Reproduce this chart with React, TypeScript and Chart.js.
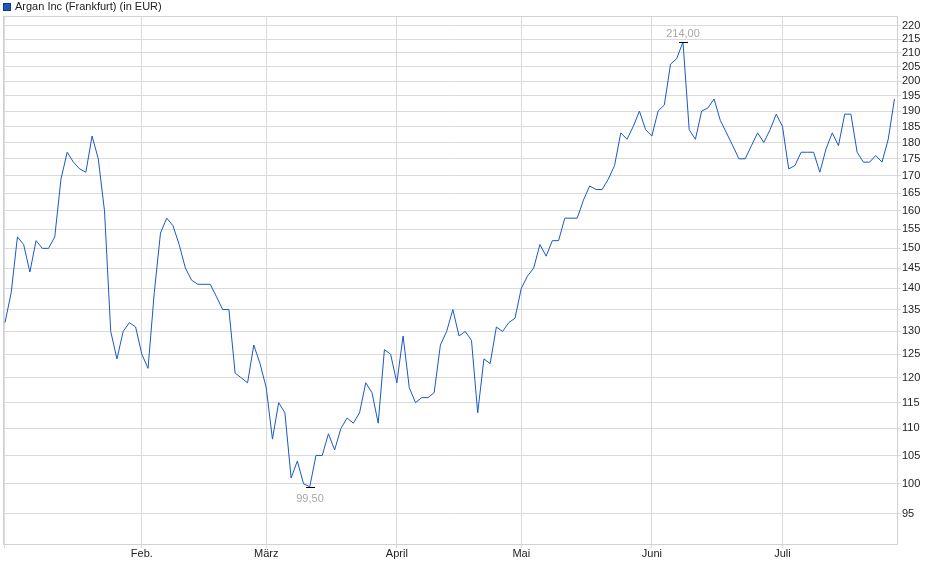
import { useEffect, useRef } from 'react';
import { Chart, registerables } from 'chart.js';

Chart.register(...registerables);

// Daily closing prices, 2 Jan – 25 Jul (Frankfurt trading days)
const seriesLabel = 'Argan Inc (Frankfurt) (in EUR)';
const prices = [
  132, 139, 153, 151, 144, 152, 150, 150, 153, 169,
  177, 174, 172, 171, 182, 175, 160, 130, 124, 130,
  132, 131, 125, 122, 139, 154, 158, 156, 151, 145,
  142, 141, 141, 141, 138, 135, 135, 121, 120, 119,
  127, 123, 118, 108, 115, 113, 101, 104, 100, 99.5,
  105, 105, 109, 106, 110, 112, 111, 113, 119, 117,
  111, 126, 125, 119, 129, 118, 115, 116, 116, 117,
  127, 130, 135, 129, 130, 128, 113, 124, 123, 131,
  130, 132, 133, 140, 143, 145, 151, 148, 152, 152,
  158, 158, 158, 163, 167, 166, 166, 169, 173, 183,
  181, 185, 190, 184, 182, 190, 192, 206, 208, 214,
  184, 181, 190, 191, 194, 187, 183, 179, 175, 175,
  179, 183, 180, 184, 189, 185, 172, 173, 177, 177,
  177, 171, 178, 183, 179, 189, 189, 177, 174, 174,
  176, 174, 181, 194,
];

// first trading day of each month (index into prices) and its label
const monthStartIndex = [0, 22, 42, 63, 83, 104, 125];
const monthLabels = ['', 'Feb.', 'März', 'April', 'Mai', 'Juni', 'Juli'];

const yTickValues = [
  95, 100, 105, 110, 115, 120, 125, 130, 135, 140, 145, 150, 155,
  160, 165, 170, 175, 180, 185, 190, 195, 200, 205, 210, 215, 220,
];

const FONT = "'Liberation Sans', Arial, Helvetica, sans-serif";
const GRID = '#dadada';
const LINE = '#1a58c6';

const fmt = (v: number) => v.toFixed(2).replace('.', ',');

const decorPlugin = {
  id: 'decor',
  beforeDatasetsDraw(chart: any) {
    const { ctx, chartArea: a } = chart;
    ctx.save();
    ctx.strokeStyle = '#d2d2d2';
    ctx.lineWidth = 1;
    ctx.strokeRect(
      Math.round(a.left) + 0.5,
      Math.round(a.top) + 0.5,
      Math.round(a.right - a.left) - 1,
      Math.round(a.bottom - a.top) - 1
    );
    ctx.restore();
  },
  afterDraw(chart: any) {
    const { ctx } = chart;
    const xs = chart.scales.x;
    const ys = chart.scales.y;
    ctx.save();

    // legend
    ctx.fillStyle = LINE;
    ctx.fillRect(3, 3, 8, 8);
    ctx.strokeStyle = '#14387c';
    ctx.lineWidth = 1;
    ctx.strokeRect(3.5, 3.5, 7, 7);
    ctx.font = `11px ${FONT}`;
    ctx.fillStyle = '#222222';
    ctx.textAlign = 'left';
    ctx.textBaseline = 'middle';
    ctx.fillText(seriesLabel, 15, 7);

    // high / low markers
    const hi = Math.max(...prices);
    const lo = Math.min(...prices);
    const marks = [
      { i: prices.indexOf(hi), v: hi, dy: -9 },
      { i: prices.indexOf(lo), v: lo, dy: 11 },
    ];
    marks.forEach((m) => {
      const px = Math.round(xs.getPixelForValue(m.i));
      const py = Math.round(ys.getPixelForValue(m.v)) + 0.5;
      ctx.strokeStyle = '#000000';
      ctx.beginPath();
      ctx.moveTo(px - 4, py);
      ctx.lineTo(px + 5, py);
      ctx.stroke();
      ctx.fillStyle = '#a8a8a8';
      ctx.textAlign = 'center';
      ctx.fillText(fmt(m.v), px, py + m.dy);
    });
    ctx.restore();
  },
};

export default function App() {
  const canvasRef = useRef<HTMLCanvasElement>(null);
  const chartRef = useRef<Chart | null>(null);

  useEffect(() => {
    if (!canvasRef.current) return;
    if (chartRef.current) {
      chartRef.current.destroy();
      chartRef.current = null;
    }

    chartRef.current = new Chart(canvasRef.current, {
      type: 'line',
      data: {
        datasets: [
          {
            label: seriesLabel,
            data: prices.map((v, i) => ({ x: i, y: v })),
            borderColor: LINE,
            borderWidth: 1,
            pointRadius: 0,
            tension: 0,
            fill: false,
          },
        ],
      },
      options: {
        animation: false,
        responsive: true,
        maintainAspectRatio: false,
        layout: { padding: { top: 16, left: 3, right: 0, bottom: 0 } },
        plugins: {
          legend: { display: false },
          tooltip: { enabled: false },
        },
        scales: {
          x: {
            type: 'linear',
            min: -0.32,
            max: 143.57,
            afterBuildTicks: (scale: any) => {
              scale.ticks = monthStartIndex.map((v) => ({ value: v }));
            },
            afterFit: (scale: any) => {
              scale.height = 34;
            },
            grid: { color: GRID, lineWidth: 1, tickLength: 3, drawOnChartArea: true },
            border: { display: false },
            ticks: {
              autoSkip: false,
              maxRotation: 0,
              padding: -1,
              color: '#222222',
              font: { family: FONT, size: 11 },
              callback: (_v: any, idx: number) => monthLabels[idx],
            },
          },
          y: {
            type: 'logarithmic',
            position: 'right',
            min: 90,
            max: 223.8,
            afterBuildTicks: (scale: any) => {
              scale.ticks = yTickValues.map((v) => ({ value: v }));
            },
            afterFit: (scale: any) => {
              scale.width = 42;
            },
            grid: { color: GRID, lineWidth: 1, tickLength: 3 },
            border: { display: false },
            ticks: {
              padding: 1,
              color: '#222222',
              font: { family: FONT, size: 11 },
              callback: (v: any) => String(v),
            },
          },
        },
      },
      plugins: [decorPlugin],
    });

    return () => {
      if (chartRef.current) {
        chartRef.current.destroy();
        chartRef.current = null;
      }
    };
  }, []);

  return (
    <div style={{ position: 'absolute', left: 0, top: 0, width: 940, height: 579, background: '#ffffff' }}>
      <canvas ref={canvasRef} />
    </div>
  );
}
